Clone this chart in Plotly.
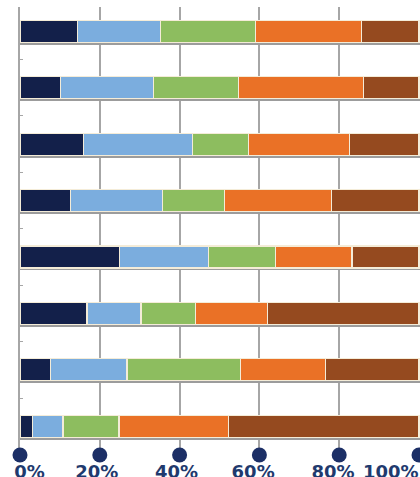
import plotly.graph_objects as go

rows = [0, 1, 2, 3, 4, 5, 6, 7]
series_names = ["Series 1", "Series 2", "Series 3", "Series 4", "Series 5"]
navy = [14.5, 10.2, 16.0, 12.7, 25.0, 16.8, 7.7, 3.2]
light_blue = [20.8, 23.2, 27.3, 23.0, 22.3, 13.5, 19.1, 7.6]
green = [23.7, 21.3, 14.0, 15.6, 16.7, 13.7, 28.5, 14.0]
orange = [26.5, 31.3, 25.2, 26.7, 19.2, 18.0, 21.2, 27.4]
brown = [14.5, 14.0, 17.5, 22.0, 16.8, 38.0, 23.5, 47.8]
tick_vals = [0, 20, 40, 60, 80, 100]
tick_text = ["0%", "20%", "40%", "60%", "80%", "100%"]

series = [navy, light_blue, green, orange, brown]
colors = ["#13204a", "#7badde", "#8dbd5f", "#ea7126", "#954a1f"]

Y_TOP, Y_BOTTOM = -0.43, 7.51
GRID = "#a6a6a6"
LABEL = "#1f3a6e"
DOT = "#1c2f66"
NB = "\u00a0"
# label alignment padding (leading, trailing) in non-breaking spaces
pads = [(3, 0), (0, 1), (0, 1), (0, 2), (0, 2), (0, 9)]
labels = [NB * a + t + NB * b for t, (a, b) in zip(tick_text, pads)]

fig = go.Figure()
for name, vals, col in zip(series_names, series, colors):
    fig.add_trace(go.Bar(
        y=rows, x=vals, name=name, orientation="h", width=0.39,
        marker=dict(color=col, line=dict(color="#f4ecd8", width=1.2)),
    ))

# axis dots on the bottom edge of the plot
fig.add_trace(go.Scatter(
    x=tick_vals, y=[Y_BOTTOM] * len(tick_vals), mode="markers",
    cliponaxis=False,
    marker=dict(size=15, color=DOT, line=dict(width=0)),
    hoverinfo="skip",
))

font = dict(family="DejaVu Sans", size=18, color=LABEL, weight="bold")

fig.update_layout(
    barmode="stack",
    width=420, height=477,
    margin=dict(l=20, r=0, t=7, b=22, autoexpand=False),
    paper_bgcolor="white", plot_bgcolor="white",
    showlegend=False,
    xaxis=dict(
        range=[0, 100.25], tickvals=tick_vals, ticktext=labels,
        showgrid=True, gridcolor=GRID, gridwidth=1.5,
        zeroline=False, showline=False, ticks="",
        tickfont=font, ticklabelstandoff=4, automargin=False,
        ticklabeloverflow="allow", tickangle=0, layer="below traces",
    ),
    yaxis=dict(
        range=[Y_BOTTOM, Y_TOP],
        tickvals=[r + 0.22 for r in rows],
        ticks="", showticklabels=False,
        showgrid=True, gridcolor="#9c9c9c", gridwidth=2,
        zeroline=False, layer="below traces",
        showline=True, linecolor=GRID, linewidth=1.5, automargin=False,
        minor=dict(tick0=0.5, dtick=1, ticks="inside", ticklen=3,
                   tickcolor=GRID, tickwidth=1, showgrid=False),
    ),
)

fig.write_html("out.html")
